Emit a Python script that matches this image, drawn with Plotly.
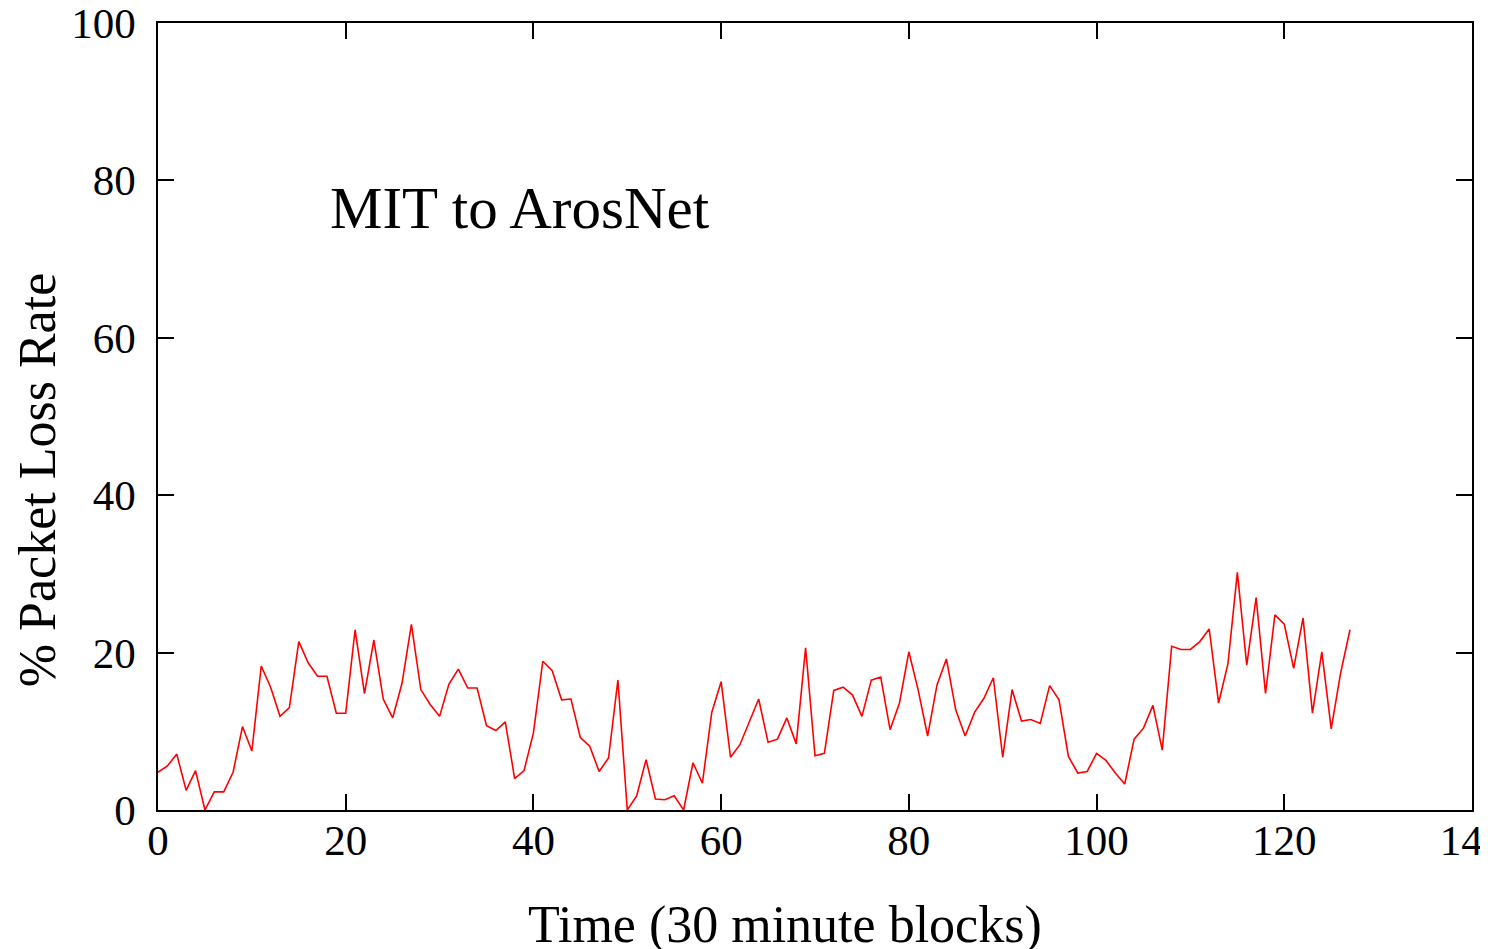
import plotly.graph_objects as go

time_blocks = list(range(128))
loss_rate = [
    4.8, 5.6, 7.1, 2.5, 5.0, 0.0, 2.3, 2.3, 4.8, 10.6,
    7.5, 18.3, 15.6, 11.9, 13.0, 21.4, 18.7, 17.0, 17.0, 12.3,
    12.3, 22.9, 14.8, 21.6, 14.1, 11.7, 16.1, 23.6, 15.3, 13.4,
    11.9, 16.0, 17.9, 15.5, 15.5, 10.7, 10.1, 11.2, 4.0, 5.0,
    9.8, 18.9, 17.7, 14.0, 14.1, 9.2, 8.1, 4.9, 6.6, 16.5,
    0.0, 1.8, 6.4, 1.4, 1.3, 1.8, 0.0, 6.0, 3.4, 12.4,
    16.3, 6.7, 8.3, 11.3, 14.1, 8.6, 9.0, 11.7, 8.4, 20.6,
    6.9, 7.2, 15.2, 15.6, 14.6, 11.9, 16.5, 16.9, 10.2, 13.6,
    20.1, 15.2, 9.4, 15.9, 19.2, 12.7, 9.4, 12.4, 14.2, 16.8,
    6.7, 15.3, 11.3, 11.5, 11.0, 15.8, 14.0, 6.8, 4.7, 4.9,
    7.2, 6.3, 4.7, 3.3, 9.0, 10.4, 13.3, 7.6, 20.8, 20.4,
    20.4, 21.4, 23.0, 13.6, 18.6, 30.2, 18.4, 27.0, 14.8, 24.8,
    23.6, 18.0, 24.4, 12.3, 20.1, 10.3, 17.4, 22.9,
]
x_ticks = [0, 20, 40, 60, 80, 100, 120, 140]
y_ticks = [0, 20, 40, 60, 80, 100]

FONT = "Liberation Serif"

fig = go.Figure()
fig.add_trace(go.Scatter(
    x=time_blocks, y=loss_rate, mode="lines",
    line=dict(color="#ff0000", width=1.6),
    showlegend=False,
))

axis_common = dict(
    showline=True, linecolor="black", linewidth=1.5, mirror="ticks",
    ticks="inside", ticklen=16, tickwidth=1.5, tickcolor="black",
    showgrid=False, zeroline=False, automargin=False,
    ticklabeloverflow="allow",
    tickfont=dict(family=FONT, size=43, color="black"),
)

fig.update_xaxes(
    range=[0, 140], tickvals=x_ticks, ticktext=[str(v) for v in x_ticks],
    ticklabelstandoff=-8,
    **axis_common,
)
fig.update_yaxes(
    range=[0, 100], tickvals=y_ticks, ticktext=[str(v) for v in y_ticks],
    ticklabelstandoff=12,
    **axis_common,
)

fig.add_annotation(
    x=18.1, y=76.5, xref="x", yref="y", text="MIT to ArosNet",
    showarrow=False, xanchor="left", yanchor="middle",
    font=dict(family=FONT, size=59, color="black"),
)
fig.add_annotation(
    x=0.477, y=-0.146, xref="paper", yref="paper", text="Time (30 minute blocks)",
    showarrow=False, xanchor="center", yanchor="middle",
    font=dict(family=FONT, size=52, color="black"),
)
fig.add_annotation(
    x=-0.0921, y=0.419, xref="paper", yref="paper", text="% Packet Loss Rate",
    showarrow=False, xanchor="center", yanchor="middle", textangle=-90,
    font=dict(family=FONT, size=52, color="black"),
)

fig.update_layout(
    width=1480, height=941,
    margin=dict(l=150, r=16, t=15, b=139),
    plot_bgcolor="white", paper_bgcolor="white",
)

fig.write_html("out.html")
